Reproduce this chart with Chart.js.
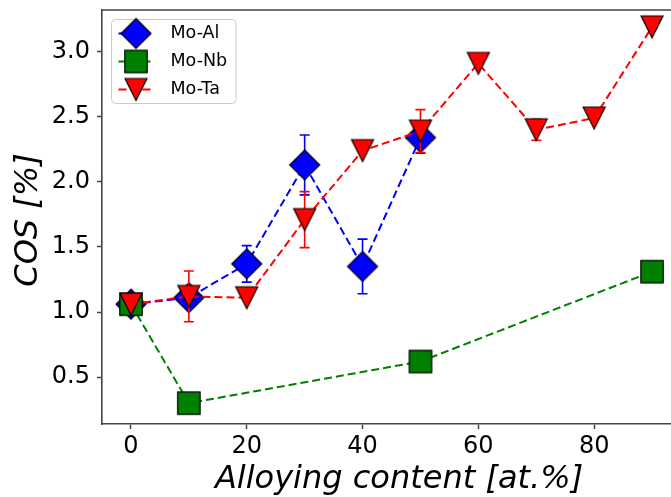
<!DOCTYPE html>
<html>
<head>
<meta charset="utf-8">
<script src="https://cdn.jsdelivr.net/npm/chart.js@4/dist/chart.umd.min.js"></script>
<style>
  html, body { margin: 0; padding: 0; background: #fff; overflow: hidden; }
  #wrap { width: 671px; height: 497px; overflow: hidden; }
  canvas { display: block; }
</style>
</head>
<body>
<div id="wrap"><canvas id="c" width="683" height="497"></canvas></div>
<script>
// Alloying content (at.%) of each alloy system
const xMoAl = [0, 10, 20, 30, 40, 50];
const xMoNb = [0, 10, 50, 90];
const xMoTa = [0, 10, 20, 30, 40, 50, 60, 70, 80, 90];

// COS values (%)
const cosMoAl = [1.06, 1.11, 1.37, 2.13, 1.35, 2.34];
const cosMoNb = [1.06, 0.30, 0.62, 1.31];
const cosMoTa = [1.06, 1.12, 1.11, 1.71, 2.24, 2.39, 2.91, 2.40, 2.49, 3.19];

// Standard deviations (0 = no bar)
const errMoAl = [0, 0, 0.14, 0.23, 0.21, 0.12];
const errMoNb = [0, 0, 0, 0];
const errMoTa = [0, 0.195, 0, 0.215, 0, 0.165, 0, 0.08, 0, 0];

const seriesNames = ['Mo-Al', 'Mo-Nb', 'Mo-Ta'];
const xTicks = [0, 20, 40, 60, 80];
const yTicks = [0.5, 1.0, 1.5, 2.0, 2.5, 3.0];

const xTitle = 'Alloying content [at.%]';
const yTitle = 'COS [%]';

// Marker glyphs with a thin black edge
function makeMarker(shape, fill) {
  const s = 36, c = s / 2;
  const cv = document.createElement('canvas');
  cv.width = s; cv.height = s;
  const g = cv.getContext('2d');
  g.beginPath();
  if (shape === 'diamond') {
    const r = 15;
    g.moveTo(c, c - r); g.lineTo(c + r, c); g.lineTo(c, c + r); g.lineTo(c - r, c);
  } else if (shape === 'square') {
    const h = 11.2;
    g.rect(c - h, c - h, 2 * h, 2 * h);
  } else {
    const h = 11;
    g.moveTo(c - h, c - h); g.lineTo(c + h, c - h); g.lineTo(c, c + h);
  }
  g.closePath();
  g.fillStyle = fill; g.fill();
  g.lineWidth = 1.2; g.strokeStyle = '#000'; g.stroke();
  return cv;
}

const BLUE = '#0000ff', GREEN = '#008000', RED = '#ff0000';
const DASH = [8, 4];

function points(xs, ys) { return xs.map((x, i) => ({ x: x, y: ys[i] })); }

const datasets = [
  { label: seriesNames[0], data: points(xMoAl, cosMoAl), errors: errMoAl, color: BLUE,
    marker: makeMarker('diamond', BLUE), order: 3 },
  { label: seriesNames[1], data: points(xMoNb, cosMoNb), errors: errMoNb, color: GREEN,
    marker: makeMarker('square', GREEN), order: 2 },
  { label: seriesNames[2], data: points(xMoTa, cosMoTa), errors: errMoTa, color: RED,
    marker: makeMarker('triangleDown', RED), order: 1 }
].map(d => Object.assign(d, {
  showLine: true,
  borderColor: d.color,
  backgroundColor: d.color,
  borderWidth: 2,
  borderDash: DASH,
  tension: 0,
  pointStyle: d.marker,
  pointRadius: 12,
  pointHoverRadius: 12,
  clip: false
}));

// Vertical error bars with caps, drawn just beneath each series
const errorBars = {
  id: 'errorBars',
  beforeDatasetDraw(chart, args) {
    const ds = chart.data.datasets[args.index];
    if (!ds.errors) return;
    const xs = chart.scales.x, ys = chart.scales.y, ctx = chart.ctx;
    ctx.save();
    ctx.strokeStyle = ds.color;
    ctx.lineWidth = 1.6;
    ctx.setLineDash([]);
    ds.data.forEach((p, i) => {
      const e = ds.errors[i];
      if (!e) return;
      const px = xs.getPixelForValue(p.x);
      const top = ys.getPixelForValue(p.y + e);
      const bot = ys.getPixelForValue(p.y - e);
      ctx.beginPath();
      ctx.moveTo(px, top); ctx.lineTo(px, bot);
      ctx.moveTo(px - 5, top); ctx.lineTo(px + 5, top);
      ctx.moveTo(px - 5, bot); ctx.lineTo(px + 5, bot);
      ctx.stroke();
    });
    ctx.restore();
  }
};

// Top spine of the axes frame
const frame = {
  id: 'frame',
  beforeDatasetsDraw(chart) {
    const a = chart.chartArea, ctx = chart.ctx;
    ctx.save();
    ctx.strokeStyle = '#444';
    ctx.lineWidth = 1.6;
    ctx.beginPath();
    ctx.moveTo(a.left, a.top);
    ctx.lineTo(a.right, a.top);
    ctx.stroke();
    ctx.restore();
  }
};

// Legend box in the upper-left corner of the plot
const insideLegend = {
  id: 'insideLegend',
  afterDatasetsDraw(chart) {
    const ctx = chart.ctx, a = chart.chartArea;
    const x0 = a.left + 9.5, y0 = a.top + 9.5, w = 124.5, h = 84;
    ctx.save();
    ctx.beginPath();
    ctx.roundRect(x0, y0, w, h, 4);
    ctx.fillStyle = 'rgba(255,255,255,0.8)';
    ctx.fill();
    ctx.strokeStyle = '#cccccc';
    ctx.lineWidth = 1;
    ctx.stroke();
    chart.data.datasets.forEach((ds, i) => {
      const cy = y0 + 14 + i * 28;
      const hx0 = x0 + 7, hx1 = x0 + 42, mx = (hx0 + hx1) / 2;
      ctx.strokeStyle = ds.color;
      ctx.lineWidth = 2;
      ctx.setLineDash(DASH);
      ctx.beginPath();
      ctx.moveTo(hx0, cy); ctx.lineTo(hx1, cy);
      ctx.stroke();
      ctx.setLineDash([]);
      ctx.drawImage(ds.marker, mx - ds.marker.width / 2, cy - ds.marker.height / 2);
      ctx.fillStyle = '#000';
      ctx.font = '17.5px "DejaVu Sans"';
      ctx.textAlign = 'left';
      ctx.textBaseline = 'middle';
      ctx.fillText(ds.label, x0 + 59, cy);
    });
    ctx.restore();
  }
};

// Axis titles
const axisTitles = {
  id: 'axisTitles',
  afterDraw(chart) {
    const ctx = chart.ctx, a = chart.chartArea;
    ctx.save();
    ctx.fillStyle = '#000';
    ctx.font = 'italic 32px "DejaVu Sans"';
    ctx.textAlign = 'center';
    ctx.textBaseline = 'alphabetic';
    ctx.fillText(xTitle, 399, 488);
    ctx.translate(28.5, (a.top + a.bottom) / 2 + 3);
    ctx.rotate(-Math.PI / 2);
    ctx.textBaseline = 'middle';
    ctx.fillText(yTitle, 0, 0);
    ctx.restore();
  }
};

const tickFont = { family: 'DejaVu Sans', size: 24 };

function noPadding(s) {
  s.paddingTop = 0; s.paddingBottom = 0; s.paddingLeft = 0; s.paddingRight = 0;
}

new Chart(document.getElementById('c'), {
  type: 'scatter',
  data: { datasets: datasets },
  options: {
    responsive: false,
    animation: false,
    devicePixelRatio: 1,
    layout: { autoPadding: false, padding: { top: 10, right: 2, left: 0, bottom: 0 } },
    plugins: { legend: { display: false }, tooltip: { enabled: false } },
    events: [],
    scales: {
      x: {
        type: 'linear',
        position: 'bottom',
        min: -5,
        max: 95,
        afterFit(s) { s.height = 73; noPadding(s); },
        afterBuildTicks(s) { s.ticks = xTicks.map(v => ({ value: v })); },
        ticks: {
          autoSkip: false, maxRotation: 0, padding: 3, color: '#000',
          font: tickFont, callback: v => String(v)
        },
        grid: { display: true, drawOnChartArea: false, drawTicks: true,
                tickLength: 5, tickWidth: 1.5, tickColor: '#444' },
        border: { display: true, color: '#444', width: 1.6 }
      },
      y: {
        type: 'linear',
        position: 'left',
        min: 0.14,
        max: 3.32,
        afterFit(s) { s.width = 102; noPadding(s); },
        afterBuildTicks(s) { s.ticks = yTicks.map(v => ({ value: v })); },
        ticks: {
          autoSkip: false, padding: 7, color: '#000',
          font: tickFont, callback: v => v.toFixed(1)
        },
        grid: { display: true, drawOnChartArea: false, drawTicks: true,
                tickLength: 5, tickWidth: 1.5, tickColor: '#444' },
        border: { display: true, color: '#444', width: 1.6 }
      }
    }
  },
  plugins: [errorBars, frame, insideLegend, axisTitles]
});
</script>
</body>
</html>
